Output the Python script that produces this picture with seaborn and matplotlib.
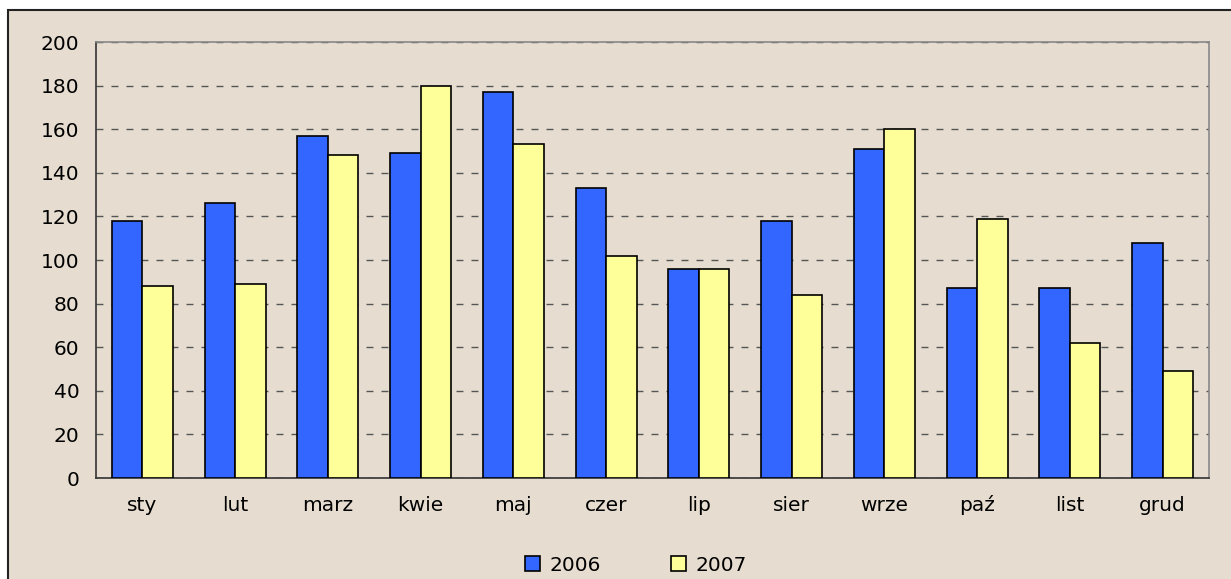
import seaborn as sns
import matplotlib.pyplot as plt
import pandas as pd
import numpy as np
from matplotlib.patches import Rectangle

# dane
miesiace = ['sty', 'lut', 'marz', 'kwie', 'maj', 'czer', 'lip', 'sier', 'wrze', 'paź', 'list', 'grud']
v2006 = [118, 126, 157, 149, 177, 133, 96, 118, 151, 87, 87, 108]
v2007 = [88, 89, 148, 180, 153, 102, 96, 84, 160, 119, 62, 49]

df = pd.DataFrame({
    'miesiac': miesiace * 2,
    'wartosc': v2006 + v2007,
    'rok': ['2006'] * 12 + ['2007'] * 12,
})

sns.set_style('white')
plt.rcParams['font.family'] = ['DejaVu Sans']
plt.rcParams['text.color'] = 'black'

bg = '#e6ddd0'
fig = plt.figure(figsize=(12.31, 5.79), dpi=100)
fig.patch.set_facecolor('white')
# ramka wykresu
ramka = Rectangle((8 / 1231, -0.01), 1.0, 1 - 10 / 579 + 0.01,
                  transform=fig.transFigure, facecolor=bg,
                  edgecolor='#222222', linewidth=1.5, zorder=-10)
fig.add_artist(ramka)

ax = fig.add_axes([96 / 1231, 1 - 478 / 579, (1209 - 96) / 1231, (478 - 42) / 579])
ax.set_zorder(5)
ax.set_facecolor(bg)

sns.barplot(data=df, x='miesiac', y='wartosc', hue='rok',
            palette={'2006': '#3366ff', '2007': '#ffff99'},
            edgecolor='black', linewidth=1.2, width=0.66, gap=0,
            saturation=1, ax=ax, zorder=3)

ax.set_ylim(0, 200)
ax.set_xlim(-0.5, 11.5)
ax.set_yticks(range(0, 201, 20))
ax.yaxis.grid(True, linestyle=(0, (5, 5.8)), color='#555555', linewidth=1.0, zorder=0)
ax.set_axisbelow(True)
ax.set_xlabel('')
ax.set_ylabel('')

# podziałki osi x między kategoriami
ax.set_xticks(np.arange(-0.5, 12, 1), minor=True)
ax.tick_params(axis='x', which='major', length=0, pad=24, labelsize=14.5, labelcolor='black')
ax.tick_params(axis='x', which='minor', length=6, width=1, color='#333333', direction='out')
ax.tick_params(axis='y', length=6, width=1, color='#333333', direction='out', labelsize=14.5,
               pad=6, labelcolor='black')
for lab in ax.get_xticklabels():
    lab.set_verticalalignment('baseline')

for s in ['top', 'right']:
    ax.spines[s].set_color('#888888')
    ax.spines[s].set_linewidth(1.2)
for s in ['left', 'bottom']:
    ax.spines[s].set_color('#333333')
    ax.spines[s].set_linewidth(1.2)

leg = ax.legend(loc='center', bbox_to_anchor=(0.485, -0.2), ncol=2, frameon=False,
                fontsize=14.5, handlelength=0.75, handleheight=0.75, columnspacing=3.5,
                handletextpad=0.45, labelcolor='black')

plt.savefig('out.png', dpi=100, facecolor='white')
